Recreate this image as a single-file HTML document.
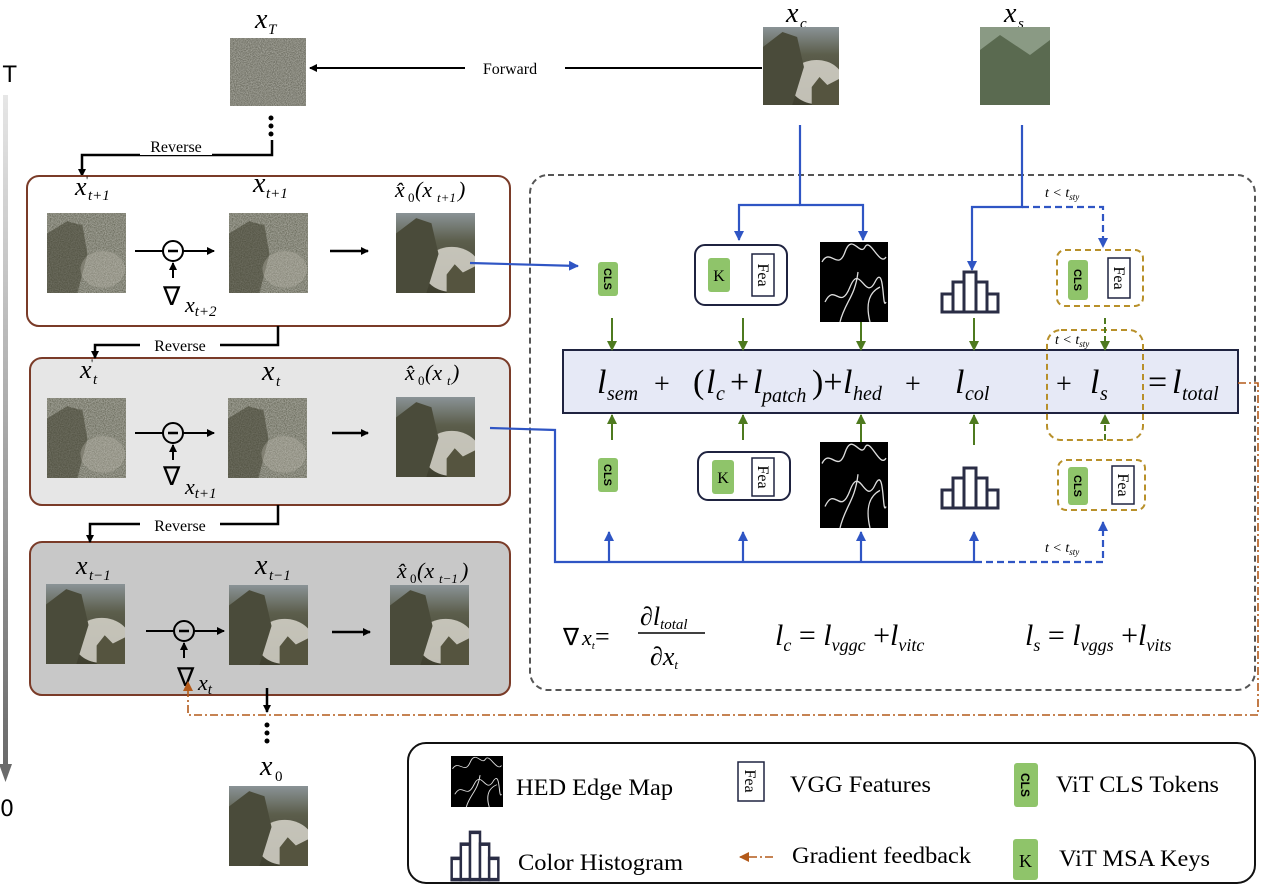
<!DOCTYPE html>
<html><head><meta charset="utf-8"><style>
html,body{margin:0;padding:0;background:#fff;}
svg{display:block;}
.s{font-family:"Liberation Serif",serif;}
.i{font-family:"Liberation Serif",serif;font-style:italic;}
</style></head><body>
<svg width="1265" height="886" viewBox="0 0 1265 886" xmlns="http://www.w3.org/2000/svg">
<defs>
<linearGradient id="tax" x1="0" y1="0" x2="0" y2="1"><stop offset="0" stop-color="#e6e6e6"/><stop offset="1" stop-color="#6a6a6a"/></linearGradient>
<linearGradient id="sky" x1="0" y1="0" x2="0" y2="1"><stop offset="0" stop-color="#8a9396"/><stop offset="0.35" stop-color="#5c5e4c"/><stop offset="1" stop-color="#3e3e2e"/></linearGradient>
<filter id="nz"><feTurbulence type="fractalNoise" baseFrequency="0.9" numOctaves="2" seed="3"/><feColorMatrix type="matrix" values="0 0 0 0 0.45  0 0 0 0 0.45  0 0 0 0 0.4  0 0 0 1.2 -0.1"/><feComposite in2="SourceGraphic" operator="in"/></filter>
<symbol id="land" viewBox="0 0 78 78" preserveAspectRatio="none">
<rect width="78" height="78" fill="url(#sky)"/>
<ellipse cx="55" cy="55" rx="28" ry="22" fill="#d8d6cc" opacity="0.85"/>
<path d="M0 20 L20 5 L35 10 L42 40 L30 78 L0 78Z" fill="#4a4b3a"/>
<path d="M50 60 L58 50 L66 58 L78 52 L78 78 L50 78Z" fill="#55543f"/>
</symbol>
<symbol id="noisy" viewBox="0 0 78 78" preserveAspectRatio="none">
<rect width="78" height="78" fill="#5f6050"/>
<rect width="78" height="78" fill="#fff" filter="url(#nz)"/>
<path d="M0 20 L20 8 L35 12 L40 40 L30 78 L0 78Z" fill="#3f402f" opacity="0.55"/>
<ellipse cx="55" cy="55" rx="22" ry="18" fill="#bdbbae" opacity="0.35"/>
</symbol>
<symbol id="noise" viewBox="0 0 78 78" preserveAspectRatio="none">
<rect width="78" height="78" fill="#5e5e52"/>
<rect width="78" height="78" fill="#fff" filter="url(#nz)"/>
</symbol>
<symbol id="hed" viewBox="0 0 68 80" preserveAspectRatio="none">
<rect width="68" height="80" fill="#000"/>
<path d="M2 20 C10 5 18 30 25 10 S40 15 45 5 S60 25 66 15 M5 60 C15 40 20 70 30 45 S45 60 55 40 S62 70 66 60 M20 80 C25 60 35 55 38 30 M50 80 C45 60 50 50 60 45" stroke="#ddd" stroke-width="1.3" fill="none"/>
</symbol>
<symbol id="hist" viewBox="0 0 60 44" preserveAspectRatio="none">
<g fill="#fff" stroke="#2a2d45" stroke-width="3"><rect x="2" y="24" width="11" height="18"/><rect x="13" y="12" width="11" height="30"/><rect x="24" y="2" width="12" height="40"/><rect x="36" y="12" width="11" height="30"/><rect x="47" y="24" width="11" height="18"/></g>
</symbol>
<marker id="ak" markerWidth="8" markerHeight="8" refX="7" refY="4" orient="auto" markerUnits="userSpaceOnUse"><path d="M0 0L8 4L0 8Z" fill="#000"/></marker>
<marker id="ab" markerWidth="10" markerHeight="10" refX="9" refY="5" orient="auto" markerUnits="userSpaceOnUse"><path d="M0 0L10 5L0 10Z" fill="#2f55c4"/></marker>
<marker id="ag" markerWidth="10" markerHeight="10" refX="9" refY="5" orient="auto" markerUnits="userSpaceOnUse"><path d="M0 0L10 5L0 10Z" fill="#4e7a1f"/></marker>
<marker id="ao" markerWidth="10" markerHeight="10" refX="9" refY="5" orient="auto" markerUnits="userSpaceOnUse"><path d="M0 0L10 5L0 10Z" fill="#b35a1a"/></marker>
</defs>

<!-- T axis -->
<text x="3" y="82" font-family="DejaVu Sans,sans-serif" font-size="22">T</text>
<rect x="3" y="95" width="5" height="670" fill="url(#tax)"/>
<path d="M-1 764 L12 764 L5.5 782Z" fill="#6a6a6a"/>
<text x="0" y="816" font-family="DejaVu Sans,sans-serif" font-size="22">0</text>

<!-- top -->
<text x="255" y="28" class="i" font-size="28">x</text><text x="268" y="34" class="i" font-size="15">T</text>
<use href="#noise" x="230" y="38" width="76" height="68"/>
<line x1="762" y1="68" x2="310" y2="68" stroke="#000" stroke-width="2" marker-end="url(#ak)"/>
<rect x="465" y="58" width="100" height="20" fill="#fff"/>
<text x="510" y="74" class="s" font-size="16" text-anchor="middle">Forward</text>
<text x="786" y="22" class="i" font-size="28">x</text><text x="800" y="28" class="i" font-size="15">c</text>
<use href="#land" x="763" y="27" width="76" height="78"/>
<text x="1004" y="22" class="i" font-size="28">x</text><text x="1018" y="28" class="i" font-size="15">s</text>
<rect x="980" y="27" width="70" height="78" fill="#8a9a84"/>
<path d="M980 50 L1000 35 L1030 55 L1050 40 L1050 105 L980 105Z" fill="#5a6a50"/>
<circle cx="271" cy="118" r="2.5"/><circle cx="271" cy="126" r="2.5"/><circle cx="271" cy="134" r="2.5"/>
<path d="M272 140 V155 H82 V176" stroke="#000" stroke-width="2.5" fill="none" marker-end="url(#ak)"/>
<rect x="140" y="137" width="72" height="18" fill="#fff"/>
<text x="176" y="152" class="s" font-size="16" text-anchor="middle">Reverse</text>

<!-- box1 -->
<rect x="27" y="176" width="483" height="150" rx="12" fill="#fff" stroke="#7a3b28" stroke-width="2"/>
<text x="75" y="195" class="i" font-size="26">x</text><text x="88" y="200" class="i" font-size="15">t+1</text><text x="86" y="184" class="s" font-size="12">'</text>
<text x="253" y="192" class="i" font-size="28">x</text><text x="266" y="198" class="i" font-size="15">t+1</text>
<text x="395" y="197" class="i" font-size="22">x̂</text><text x="408" y="202" class="s" font-size="13">0</text><text x="415" y="197" class="i" font-size="22">(x</text><text x="437" y="202" class="i" font-size="13">t+1</text><text x="458" y="197" class="i" font-size="22">)</text>
<use href="#noisy" x="47" y="213" width="79" height="80"/>
<use href="#noisy" x="229" y="213" width="79" height="80"/>
<use href="#land" x="396" y="213" width="79" height="80"/>

<!-- box2 -->
<rect x="30" y="358" width="480" height="147" rx="12" fill="#e6e6e6" stroke="#7a3b28" stroke-width="2"/>
<text x="80" y="378" class="i" font-size="26">x</text><text x="93" y="384" class="i" font-size="15">t</text><text x="91" y="367" class="s" font-size="12">'</text>
<text x="262" y="380" class="i" font-size="28">x</text><text x="276" y="386" class="i" font-size="15">t</text>
<text x="405" y="380" class="i" font-size="22">x̂</text><text x="418" y="385" class="s" font-size="13">0</text><text x="425" y="380" class="i" font-size="22">(x</text><text x="447" y="385" class="i" font-size="13">t</text><text x="452" y="380" class="i" font-size="22">)</text>
<use href="#noisy" x="47" y="398" width="79" height="80"/>
<use href="#noisy" x="228" y="398" width="79" height="80"/>
<use href="#land" x="396" y="397" width="79" height="80"/>
<path d="M278 326 V345 H95 V358" stroke="#000" stroke-width="2.5" fill="none" marker-end="url(#ak)"/>
<rect x="140" y="335" width="80" height="18" fill="#fff"/>
<text x="180" y="351" class="s" font-size="16" text-anchor="middle">Reverse</text>

<!-- box3 -->
<rect x="30" y="542" width="480" height="153" rx="12" fill="#c8c8c8" stroke="#7a3b28" stroke-width="2"/>
<path d="M278 505 V524 H90 V542" stroke="#000" stroke-width="2.5" fill="none" marker-end="url(#ak)"/>
<rect x="140" y="515" width="80" height="18" fill="#fff"/>
<text x="180" y="531" class="s" font-size="16" text-anchor="middle">Reverse</text>
<text x="76" y="574" class="i" font-size="26">x</text><text x="89" y="580" class="i" font-size="15">t−1</text>
<text x="255" y="574" class="i" font-size="28">x</text><text x="269" y="580" class="i" font-size="15">t−1</text>
<text x="397" y="578" class="i" font-size="22">x̂</text><text x="410" y="583" class="s" font-size="13">0</text><text x="417" y="578" class="i" font-size="22">(x</text><text x="439" y="583" class="i" font-size="13">t−1</text><text x="461" y="578" class="i" font-size="22">)</text>
<use href="#land" x="46" y="584" width="79" height="80"/>
<use href="#land" x="229" y="585" width="79" height="80"/>
<use href="#land" x="390" y="585" width="79" height="80"/>

<!-- minus/gradient -->
<g stroke="#000" stroke-width="2" fill="none">
<line x1="135" y1="251" x2="163" y2="251"/><circle cx="173" cy="251" r="10"/><line x1="183" y1="251" x2="214" y2="251" marker-end="url(#ak)"/><line x1="168" y1="251" x2="178" y2="251" stroke-width="2.5"/>
<line x1="173" y1="278" x2="173" y2="263" marker-end="url(#ak)"/>
<line x1="330" y1="251" x2="368" y2="251" stroke-width="2.5" marker-end="url(#ak)"/>
<line x1="135" y1="433" x2="163" y2="433"/><circle cx="173" cy="433" r="10"/><line x1="183" y1="433" x2="214" y2="433" marker-end="url(#ak)"/><line x1="168" y1="433" x2="178" y2="433" stroke-width="2.5"/>
<line x1="173" y1="460" x2="173" y2="445" marker-end="url(#ak)"/>
<line x1="332" y1="433" x2="368" y2="433" stroke-width="2.5" marker-end="url(#ak)"/>
<line x1="146" y1="631" x2="174" y2="631"/><circle cx="184" cy="631" r="10"/><line x1="194" y1="631" x2="224" y2="631" marker-end="url(#ak)"/><line x1="179" y1="631" x2="189" y2="631" stroke-width="2.5"/>
<line x1="184" y1="658" x2="184" y2="643" marker-end="url(#ak)"/>
<line x1="332" y1="632" x2="370" y2="632" stroke-width="2.5" marker-end="url(#ak)"/>
<line x1="267" y1="688" x2="267" y2="712" stroke-width="2.5" marker-end="url(#ak)"/>
</g>
<text x="163" y="305" font-family="DejaVu Sans,sans-serif" font-size="26">∇</text><text x="185" y="312" class="i" font-size="22">x<tspan font-size="15" dy="4">t+2</tspan></text>
<text x="163" y="485" font-family="DejaVu Sans,sans-serif" font-size="26">∇</text><text x="185" y="494" class="i" font-size="22">x<tspan font-size="15" dy="4">t+1</tspan></text>
<text x="177" y="686" font-family="DejaVu Sans,sans-serif" font-size="26">∇</text><text x="198" y="690" class="i" font-size="22">x<tspan font-size="15" dy="4">t</tspan></text>
<circle cx="267" cy="725" r="2.5"/><circle cx="267" cy="733" r="2.5"/><circle cx="267" cy="741" r="2.5"/>
<text x="260" y="775" class="i" font-size="28">x</text><text x="275" y="781" class="s" font-size="15">0</text>
<use href="#land" x="229" y="786" width="79" height="80"/>

<!-- dashed panel -->
<rect x="530" y="175" width="725" height="515" rx="18" fill="none" stroke="#555" stroke-width="2" stroke-dasharray="6 4"/>

<!-- blue connectors -->
<g stroke="#2f55c4" stroke-width="2.2" fill="none">
<path d="M800 125 V205 H863 V240" marker-end="url(#ab)"/>
<path d="M800 205 H739 V240" marker-end="url(#ab)"/>
<path d="M1022 125 V207 H972 V270" marker-end="url(#ab)"/>
<path d="M1022 207 H1103 V247" stroke-dasharray="7 4" marker-end="url(#ab)"/>
<path d="M470 263 L578 266" marker-end="url(#ab)"/>
<path d="M490 428 L555 430 V562 H975"/>
<path d="M975 562 H1103 V522" stroke-dasharray="7 4" marker-end="url(#ab)"/>
<path d="M609 562 V532" marker-end="url(#ab)"/>
<path d="M743 562 V532" marker-end="url(#ab)"/>
<path d="M861 562 V532" marker-end="url(#ab)"/>
<path d="M974 562 V532" marker-end="url(#ab)"/>
</g>
<text x="1045" y="197" class="i" font-size="14">t &lt; t<tspan font-size="9" dy="3">sty</tspan></text>
<text x="1045" y="552" class="i" font-size="14">t &lt; t<tspan font-size="9" dy="3">sty</tspan></text>

<!-- top row icons -->
<rect x="598" y="262" width="20" height="34" rx="3" fill="#8fc46a"/>
<text transform="translate(604,279) rotate(90)" font-family="Liberation Sans,sans-serif" font-weight="bold" font-size="11" text-anchor="middle">CLS</text>
<rect x="695" y="245" width="92" height="60" rx="10" fill="#fff" stroke="#1f2340" stroke-width="2"/>
<rect x="708" y="258" width="22" height="34" rx="3" fill="#8fc46a"/><text x="719" y="281" class="s" font-size="16" text-anchor="middle">K</text>
<rect x="752" y="254" width="22" height="42" fill="#fff" stroke="#1f2340" stroke-width="1.5"/>
<text transform="translate(758,275) rotate(90)" class="s" font-size="16" text-anchor="middle">Fea</text>
<use href="#hed" x="820" y="242" width="68" height="80"/>
<use href="#hist" x="940" y="270" width="60" height="44"/>
<rect x="1057" y="250" width="86" height="56" rx="8" fill="none" stroke="#b8902a" stroke-width="2" stroke-dasharray="6 4"/>
<rect x="1068" y="260" width="20" height="40" rx="3" fill="#8fc46a"/>
<text transform="translate(1074,280) rotate(90)" font-family="Liberation Sans,sans-serif" font-weight="bold" font-size="11" text-anchor="middle">CLS</text>
<rect x="1108" y="258" width="22" height="40" fill="#fff" stroke="#1f2340" stroke-width="1.5"/>
<text transform="translate(1114,278) rotate(90)" class="s" font-size="16" text-anchor="middle">Fea</text>

<!-- bottom row icons -->
<rect x="598" y="458" width="20" height="34" rx="3" fill="#8fc46a"/>
<text transform="translate(604,475) rotate(90)" font-family="Liberation Sans,sans-serif" font-weight="bold" font-size="11" text-anchor="middle">CLS</text>
<rect x="698" y="452" width="92" height="48" rx="10" fill="#fff" stroke="#1f2340" stroke-width="2"/>
<rect x="712" y="460" width="22" height="34" rx="3" fill="#8fc46a"/><text x="723" y="483" class="s" font-size="16" text-anchor="middle">K</text>
<rect x="752" y="458" width="22" height="38" fill="#fff" stroke="#1f2340" stroke-width="1.5"/>
<text transform="translate(758,477) rotate(90)" class="s" font-size="16" text-anchor="middle">Fea</text>
<use href="#hed" x="820" y="442" width="68" height="86"/>
<use href="#hist" x="940" y="466" width="60" height="44"/>
<rect x="1058" y="460" width="87" height="50" rx="8" fill="none" stroke="#b8902a" stroke-width="2" stroke-dasharray="6 4"/>
<rect x="1068" y="467" width="20" height="38" rx="3" fill="#8fc46a"/>
<text transform="translate(1074,486) rotate(90)" font-family="Liberation Sans,sans-serif" font-weight="bold" font-size="11" text-anchor="middle">CLS</text>
<rect x="1112" y="466" width="22" height="38" fill="#fff" stroke="#1f2340" stroke-width="1.5"/>
<text transform="translate(1118,485) rotate(90)" class="s" font-size="16" text-anchor="middle">Fea</text>

<!-- loss bar -->
<rect x="563" y="350" width="675" height="63" fill="#e6e9f6" stroke="#1f2340" stroke-width="2"/>
<rect x="1047" y="330" width="96" height="110" rx="14" fill="none" stroke="#b8902a" stroke-width="2" stroke-dasharray="6 4"/>
<text x="1055" y="344" class="i" font-size="14">t &lt; t<tspan font-size="9" dy="3">sty</tspan></text>
<g stroke="#4e7a1f" stroke-width="2" fill="none">
<path d="M612 318 V350" marker-end="url(#ag)"/><path d="M743 318 V350" marker-end="url(#ag)"/><path d="M861 322 V350" marker-end="url(#ag)"/><path d="M974 318 V350" marker-end="url(#ag)"/><path d="M1105 318 V350" stroke-dasharray="6 3" marker-end="url(#ag)"/>
<path d="M612 440 V415" marker-end="url(#ag)"/><path d="M743 440 V415" marker-end="url(#ag)"/><path d="M861 442 V415" marker-end="url(#ag)"/><path d="M974 445 V415" marker-end="url(#ag)"/><path d="M1105 440 V415" stroke-dasharray="6 3" marker-end="url(#ag)"/>
</g>
<g class="i" font-size="34">
<text x="597" y="393">l</text><text x="607" y="400" font-size="20">sem</text>
<text x="654" y="393" class="s" font-style="normal" font-size="28">+</text>
<text x="693" y="393" class="s" font-style="normal">(</text><text x="706" y="393">l</text><text x="716" y="400" font-size="20">c</text>
<text x="730" y="393" class="s" font-style="normal">+</text><text x="753" y="393">l</text><text x="762" y="402" font-size="20">patch</text>
<text x="812" y="393" class="s" font-style="normal">)+</text><text x="843" y="393">l</text><text x="853" y="400" font-size="20">hed</text>
<text x="905" y="393" class="s" font-style="normal" font-size="28">+</text>
<text x="955" y="393">l</text><text x="965" y="400" font-size="20">col</text>
<text x="1056" y="393" class="s" font-style="normal" font-size="28">+</text>
<text x="1090" y="393">l</text><text x="1100" y="400" font-size="20">s</text>
<text x="1148" y="393" class="s" font-style="normal">=</text><text x="1172" y="393">l</text><text x="1182" y="400" font-size="20">total</text>
</g>

<!-- orange feedback -->
<path d="M1238 383 H1258 V715 H188 V682" stroke="#b35a1a" stroke-width="1.6" fill="none" stroke-dasharray="8 3 2 3" marker-end="url(#ao)"/>

<!-- equations -->
<text x="563" y="645" font-family="DejaVu Sans,sans-serif" font-size="24">∇</text><text x="582" y="645" class="i" font-size="22">x<tspan font-size="11" dy="4">t</tspan></text>
<text x="595" y="645" class="s" font-size="26">=</text>
<text x="640" y="625" class="i" font-size="26">∂l<tspan font-size="15" dy="4">total</tspan></text>
<line x1="638" y1="633" x2="705" y2="633" stroke="#000" stroke-width="1.5"/>
<text x="650" y="665" class="i" font-size="26">∂x<tspan font-size="13" dy="4">t</tspan></text>
<text x="775" y="645" class="i" font-size="30">l<tspan font-size="18" dy="6">c</tspan><tspan dy="-6" class="s" font-style="normal"> = </tspan>l<tspan font-size="18" dy="6">vggc</tspan><tspan dy="-6" font-style="normal"> +</tspan>l<tspan font-size="18" dy="6">vitc</tspan></text>
<text x="1025" y="645" class="i" font-size="30">l<tspan font-size="18" dy="6">s</tspan><tspan dy="-6" font-style="normal"> = </tspan>l<tspan font-size="18" dy="6">vggs</tspan><tspan dy="-6" font-style="normal"> +</tspan>l<tspan font-size="18" dy="6">vits</tspan></text>

<!-- legend -->
<rect x="408" y="743" width="847" height="140" rx="18" fill="#fff" stroke="#111" stroke-width="2"/>
<use href="#hed" x="451" y="756" width="52" height="51"/>
<text x="516" y="795" class="s" font-size="23" textLength="157" lengthAdjust="spacingAndGlyphs">HED Edge Map</text>
<rect x="738" y="762" width="26" height="39" fill="#fff" stroke="#1f2340" stroke-width="1.5"/>
<text transform="translate(745,781) rotate(90)" class="s" font-size="16" text-anchor="middle">Fea</text>
<text x="790" y="792" class="s" font-size="23" textLength="141" lengthAdjust="spacingAndGlyphs">VGG Features</text>
<rect x="1014" y="763" width="24" height="44" rx="3" fill="#8fc46a"/>
<text transform="translate(1021,785) rotate(90)" font-family="Liberation Sans,sans-serif" font-weight="bold" font-size="12" text-anchor="middle">CLS</text>
<text x="1056" y="792" class="s" font-size="23" textLength="163" lengthAdjust="spacingAndGlyphs">ViT CLS Tokens</text>
<use href="#hist" x="450" y="830" width="50" height="52"/>
<text x="518" y="870" class="s" font-size="23" textLength="165" lengthAdjust="spacingAndGlyphs">Color Histogram</text>
<path d="M773 857 H740" stroke="#b35a1a" stroke-width="1.6" stroke-dasharray="8 3 2 3" marker-end="url(#ao)"/>
<text x="792" y="863" class="s" font-size="23" textLength="179" lengthAdjust="spacingAndGlyphs">Gradient feedback</text>
<rect x="1013" y="839" width="25" height="41" rx="3" fill="#8fc46a"/><text x="1025.5" y="867" class="s" font-size="18" text-anchor="middle">K</text>
<text x="1059" y="866" class="s" font-size="23" textLength="151" lengthAdjust="spacingAndGlyphs">ViT MSA Keys</text>
</svg>
</body></html>
